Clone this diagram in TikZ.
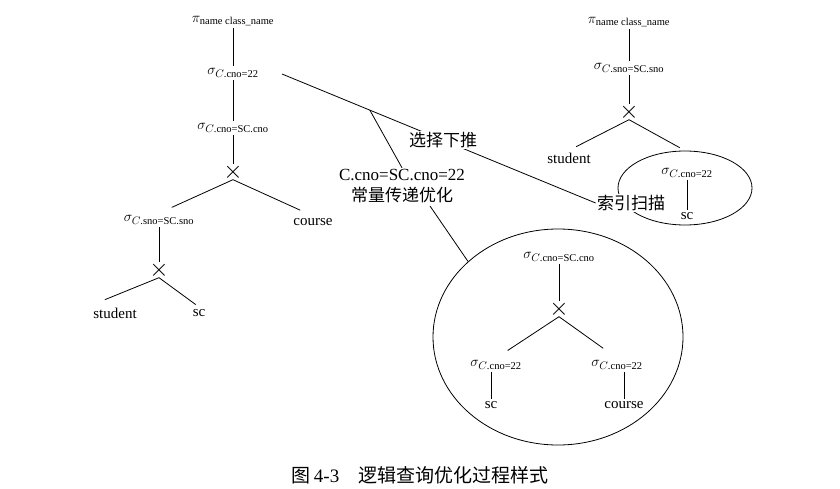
\documentclass[tikz,border=0pt]{standalone}
\usepackage{amsmath}
\usepackage{fontspec}
\setmainfont{Liberation Serif}
\newfontfamily\cjk{Noto Sans CJK SC}
\usetikzlibrary{shapes.geometric}

\begin{document}
\begin{tikzpicture}[x=1pt,y=-1pt,
    op/.style={inner sep=2pt,font=\fontsize{15}{17}\selectfont},
    rel/.style={inner sep=2pt,font=\fontsize{15}{17}\selectfont},
    cross/.style={inner sep=-1pt,font=\fontsize{24}{26}\selectfont},
    note/.style={inner sep=1pt,align=center,font=\fontsize{17}{21}\selectfont},
    zone/.style={draw,ellipse,inner sep=0pt},
    branch/.style={shorten >=#1},
    line width=0.8pt]
        \useasboundingbox (0,0) rectangle (840,489);
        % routine for the first tree
        \node[op] (pA) at (233,21) {$\pi_{\text{name class\_name}}$};
        \node[op] (sA) at (233,73) {$\sigma_{C\text{.cno=22}}$};
        \node[op] (sB) at (233,128) {$\sigma_{C\text{.cno=SC.cno}}$};
        \node[cross] (xA) at (233,172) {$\times$};
        \node[op] (sC) at (159,220) {$\sigma_{C\text{.sno=SC.sno}}$};
        \node[rel] (crsA) at (313,222) {course};
        \node[cross] (xB) at (159,270) {$\times$};
        \node[rel] (stA) at (115,313) {student};
        \node[rel] (scA) at (199,313) {sc};
        \draw (pA) -- (sA);
        \draw (sA) -- (sB);
        \draw (sB) -- (xA);
        \draw[branch=14pt] (xA.south) -- (sC.north);
        \draw[branch=14pt] (xA.south) -- (crsA.north);
        \draw (sC) -- (xB);
        \draw[branch=15pt] (xB.south) -- (stA.north west);
        \draw[branch=4pt] (xB.south) -- (scA.north);
        % routine for the second tree
        \node[op] (pB) at (629,22) {$\pi_{\text{name class\_name}}$};
        \node[op] (sD) at (629,68) {$\sigma_{C\text{.sno=SC.sno}}$};
        \node[cross] (xC) at (629,112) {$\times$};
        \node[rel] (stB) at (569,158) {student};
        \node[zone,minimum width=134pt,minimum height=74pt] (sel) at (685,188) {};
        \node[op] (sE) at (687,173) {$\sigma_{C\text{.cno=22}}$};
        \node[rel] (scB) at (687,216) {sc};
        \node[note,fill=white] (idx) at (631,203) {\cjk 索引扫描};
        \draw (pB) -- (sD);
        \draw (sD) -- (xC);
        \draw[branch=8pt] (xC.south) -- (stB.north);
        \draw[branch=6pt] (xC.south) -- (sel.north);
        \draw (sE) -- (scB);
        % routine for the third tree
        \node[zone,minimum width=250pt,minimum height=216pt] (big) at (558,337) {};
        \node[op] (sF) at (559,257) {$\sigma_{C\text{.cno=SC.cno}}$};
        \node[cross] (xD) at (559,309) {$\times$};
        \node[op] (sG) at (496,365) {$\sigma_{C\text{.cno=22}}$};
        \node[op] (sH) at (617,365) {$\sigma_{C\text{.cno=22}}$};
        \node[rel] (scC) at (491,405) {sc};
        \node[rel] (crsB) at (624,405) {course};
        \draw (sF) -- (xD);
        \draw[branch=14pt] (xD.south) -- (sG.north);
        \draw[branch=17pt] (xD.south) -- (sH.north);
        \draw (sG.south -| scC.north) -- (scC.north);
        \draw (sH.south -| crsB.north) -- (crsB.north);
        % routine for the rewrite notes
        \coordinate (pushA) at (282,74);
        \draw (pushA) -- coordinate[pos=0.28] (jn)
              node[note,fill=white,pos=0.514] (push) {\cjk 选择下推} (idx.west);
        \node[note] (cst) at (402,186) {C.cno=SC.cno=22\\\cjk 常量传递优化};
        \coordinate (cstB) at (430,206);
        \draw (jn) -- (cst.north);
        \draw (cstB) -- (big.140);
        % caption
        \node[font=\fontsize{19}{22}\selectfont] (cap) at (420,475) {{\cjk 图}\,4-3\quad\cjk 逻辑查询优化过程样式};
      \end{tikzpicture}
\end{document}
